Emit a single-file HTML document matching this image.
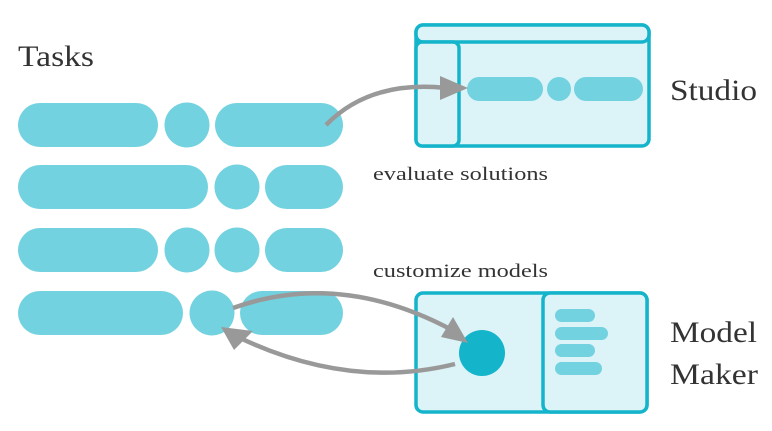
<!DOCTYPE html>
<html><head><style>body{margin:0;background:#fff}svg{display:block}</style></head><body>
<svg width="772" height="431" viewBox="0 0 772 431" xmlns="http://www.w3.org/2000/svg">
<g fill="#73d2e0">
<rect x="18" y="103" width="140" height="44" rx="22"/><circle cx="187" cy="125" r="22.5"/><rect x="215" y="103" width="128" height="44" rx="22"/>
<rect x="18" y="165" width="190" height="44" rx="22"/><circle cx="237" cy="187" r="22.5"/><rect x="265" y="165" width="78" height="44" rx="22"/>
<rect x="18" y="228" width="140" height="44" rx="22"/><circle cx="187" cy="250" r="22.5"/><circle cx="237" cy="250" r="22.5"/><rect x="265" y="228" width="78" height="44" rx="22"/>
<rect x="18" y="291" width="165" height="44" rx="22"/><circle cx="212" cy="313" r="22.5"/><rect x="240" y="291" width="103" height="44" rx="22"/>
</g>
<g stroke="#14b4cb" stroke-width="3.5" fill="#dcf3f7">
<rect x="416" y="25" width="233" height="121" rx="7"/>
<rect x="416" y="25" width="233" height="17" rx="7"/>
<rect x="416" y="42" width="43" height="104" rx="6"/>
<rect x="416" y="293" width="231" height="119" rx="7"/>
<rect x="543" y="293" width="104" height="119" rx="7"/>
</g>
<g fill="#73d2e0">
<rect x="467" y="77" width="76" height="24" rx="12"/><circle cx="559" cy="89" r="12"/><rect x="574" y="77" width="69" height="24" rx="12"/>
<rect x="555" y="309" width="40" height="13" rx="6.5"/><rect x="555" y="327" width="53" height="13" rx="6.5"/><rect x="555" y="344" width="40" height="13" rx="6.5"/><rect x="555" y="362" width="47" height="13" rx="6.5"/>
</g>
<circle cx="482" cy="353" r="23" fill="#14b4cb"/>
<g stroke="#999" stroke-width="4.5" fill="none">
<path d="M326 125 Q370 80 446 88"/>
<path d="M233 308 Q340 270 452 330"/>
<path d="M455 364 Q350 390 240 338"/>
</g>
<g fill="#999">
<path d="M468 88 L440 76 L440 100z"/>
<path d="M468 343 L441 337 L453 317z"/>
<path d="M221 327 L253 331 L234 350z"/>
</g>
<g font-family="Liberation Serif, serif" fill="#333">
<text x="18" y="66" font-size="30" textLength="76" lengthAdjust="spacingAndGlyphs">Tasks</text>
<text x="670" y="100" font-size="30" textLength="87" lengthAdjust="spacingAndGlyphs">Studio</text>
<text x="670" y="342" font-size="30" textLength="87" lengthAdjust="spacingAndGlyphs">Model</text>
<text x="670" y="384" font-size="30" textLength="88" lengthAdjust="spacingAndGlyphs">Maker</text>
<text x="373" y="180" font-size="19" textLength="175" lengthAdjust="spacingAndGlyphs">evaluate solutions</text>
<text x="373" y="277" font-size="19" textLength="175" lengthAdjust="spacingAndGlyphs">customize models</text>
</g>
</svg>
</body></html>
